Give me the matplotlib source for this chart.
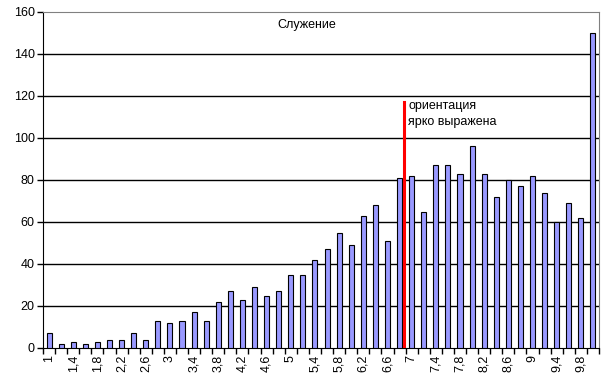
import matplotlib
matplotlib.use("Agg")
import matplotlib.pyplot as plt
import numpy as np

# categories 1,0 ... 10,0 step 0,2
categories = [round(1 + 0.2 * i, 1) for i in range(46)]
counts = [7, 2, 3, 2, 3, 4, 4, 7, 4, 13,
          12, 13, 17, 13, 22, 27, 23, 29, 25, 27,
          35, 35, 42, 47, 55, 49, 63, 68, 51, 81,
          82, 65, 87, 87, 83, 96, 83, 72, 80, 77,
          82, 74, 60, 69, 62, 150]
marker_value = 6.87          # red threshold line
marker_top = 117
marker_text = "ориентация\nярко выражена"
title = "Служение"

plt.rcParams["font.family"] = ["Liberation Sans", "DejaVu Sans"]

fig = plt.figure(figsize=(6.01, 3.89), dpi=100)
ax = fig.add_axes([43 / 601, 1 - 348 / 389, 556 / 601, 336 / 389])

pos = np.arange(len(categories)) + 0.5
ax.bar(pos, counts, width=0.42, color="#9999FF", edgecolor="black",
       linewidth=0.8, zorder=3)

ax.set_xlim(0, len(categories))
ax.set_ylim(0, 160)
ax.set_yticks(np.arange(0, 161, 20))
for y in range(20, 160, 20):
    ax.axhline(y, color="black", lw=1, zorder=1)

# labels every other category, tick marks between categories
ax.set_xticks(pos[::2])
ax.set_xticklabels([f"{c:g}".replace(".", ",") for c in categories[::2]],
                   rotation=90, va="top", ha="center")
ax.set_xticks(np.arange(len(categories) + 1), minor=True)
ax.tick_params(axis="x", which="major", length=0, pad=5, labelsize=9)
ax.tick_params(axis="x", which="minor", length=4, width=1, direction="out")
ax.tick_params(axis="y", length=4, width=1, labelsize=9, pad=2)

for s in ("top", "right"):
    ax.spines[s].set_color("#808080")
for s in ("left", "bottom"):
    ax.spines[s].set_color("black")

mx = (marker_value - categories[0]) / 0.2 + 0.5
ax.plot([mx, mx], [1, marker_top], color="red", lw=2.2, zorder=4)
ax.text(mx + 0.35, marker_top + 1, marker_text, fontsize=9, va="top",
        ha="left", linespacing=1.45, zorder=5)

ax.text(0.475, 0.98, title, transform=ax.transAxes, fontsize=9,
        ha="center", va="top")

fig.savefig("out.png", dpi=100)
